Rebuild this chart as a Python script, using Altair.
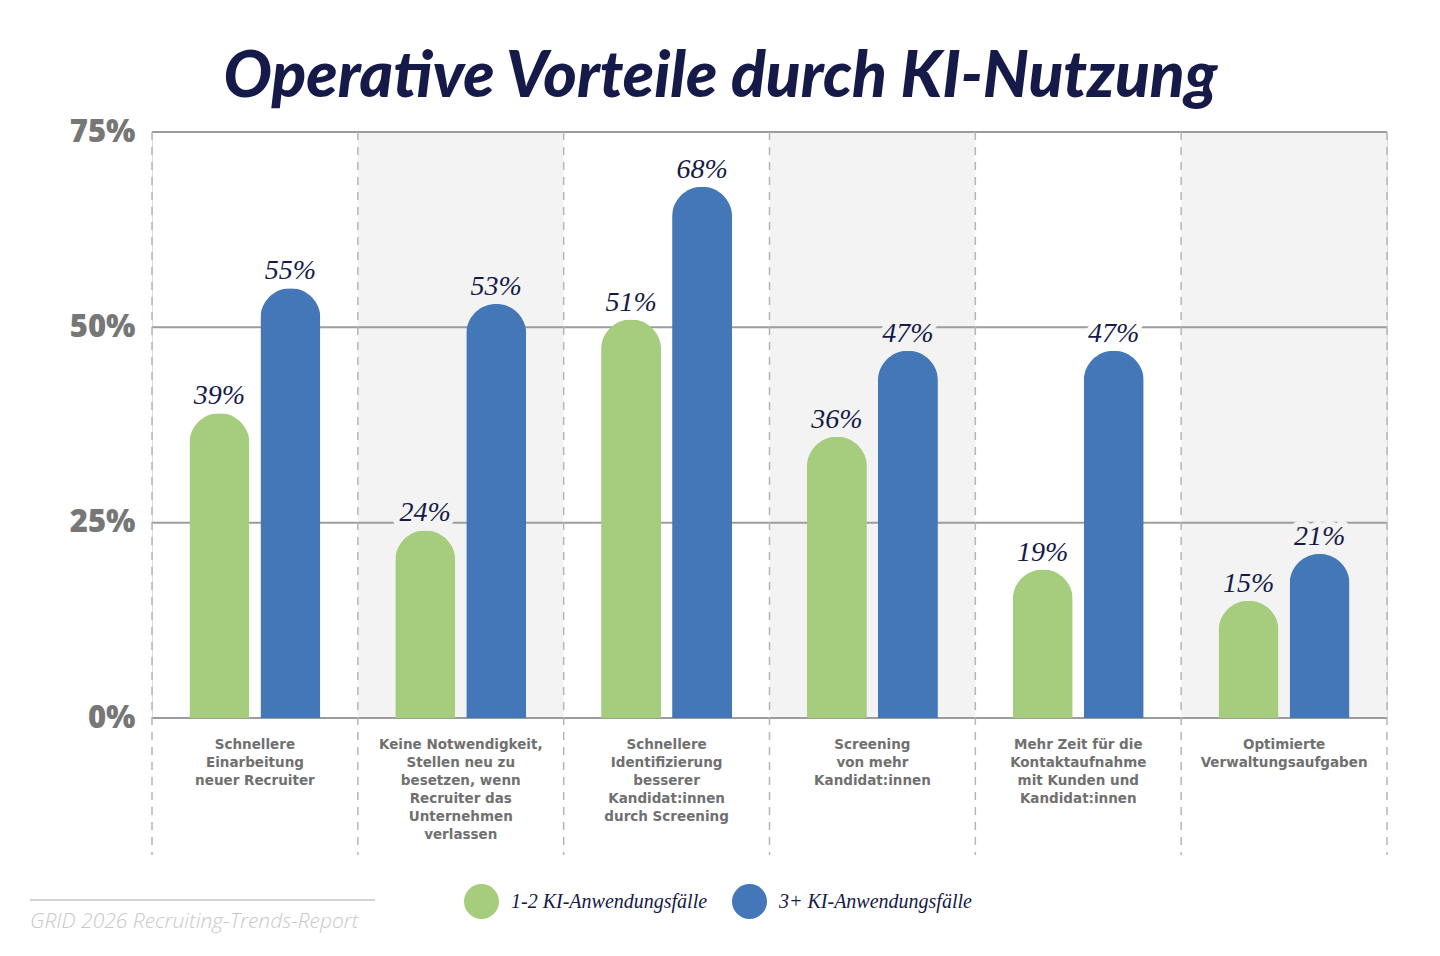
import altair as alt
import pandas as pd

categories = [
    "Schnellere|Einarbeitung|neuer Recruiter",
    "Keine Notwendigkeit,|Stellen neu zu|besetzen, wenn|Recruiter das|Unternehmen|verlassen",
    "Schnellere|Identifizierung|besserer|Kandidat:innen|durch Screening",
    "Screening|von mehr|Kandidat:innen",
    "Mehr Zeit für die|Kontaktaufnahme|mit Kunden und|Kandidat:innen",
    "Optimierte|Verwaltungsaufgaben",
]
series_names = ["1-2 KI-Anwendungsfälle", "3+ KI-Anwendungsfälle"]
values_12 = [39, 24, 51, 36, 19, 15]
values_3p = [55, 53, 68, 47, 47, 21]
y_ticks = [0, 25, 50, 75]
shaded = [categories[1], categories[3], categories[5]]

NAVY = "#151a48"
GREEN = "#a6cd7d"
BLUE = "#4477b8"
SHADE = "#f3f3f3"
GRID = "#9c9c9c"

rows = []
for c, a, b in zip(categories, values_12, values_3p):
    rows.append({"cat": c, "series": series_names[0], "value": a, "label": f"{a}%",
                 "bg": "shade" if c in shaded else "white"})
    rows.append({"cat": c, "series": series_names[1], "value": b, "label": f"{b}%",
                 "bg": "shade" if c in shaded else "white"})
df = pd.DataFrame(rows)

W, H = 1235, 586

xenc = alt.X("cat:N", sort=categories, scale=alt.Scale(paddingInner=0, paddingOuter=0),
             axis=alt.Axis(title=None, domain=False, ticks=False, labelAngle=0,
                           labelExpr="split(datum.label, '|')", labelFont="DejaVu Sans",
                           labelFontWeight="bold", labelFontSize=13.5, labelColor="#707070",
                           labelLineHeight=18, labelBaseline="top", labelPadding=19,
                           labelLimit=0, grid=False))
yscale = alt.Scale(domain=[0, 75], nice=False)
yaxis = alt.Axis(title=None, values=y_ticks, domain=False, ticks=False, grid=False,
                 labelExpr="datum.value + '%'", labelFont="Open Sans", labelFontWeight=800,
                 labelFontSize=31, labelColor="#777777", labelPadding=17)

bg = alt.Chart(pd.DataFrame({"cat": shaded})).mark_rect(color=SHADE).encode(
    x=xenc, y=alt.value(0), y2=alt.value(H))

grid = alt.Chart(pd.DataFrame({"v": y_ticks})).mark_rule(color=GRID, strokeWidth=2).encode(
    y=alt.Y("v:Q", scale=yscale, axis=yaxis))

sep_left = alt.Chart(pd.DataFrame({"cat": categories})).mark_rule(
    color="#b5b5b5", strokeWidth=1.5, strokeDash=[8, 7]).encode(
    x=alt.X("cat:N", sort=categories, bandPosition=0), y=alt.value(0), y2=alt.value(723))
sep_right = alt.Chart(pd.DataFrame({"cat": categories[-1:]})).mark_rule(
    color="#b5b5b5", strokeWidth=1.5, strokeDash=[8, 7]).encode(
    x=alt.X("cat:N", sort=categories, bandPosition=1), y=alt.value(0), y2=alt.value(723))

off = alt.XOffset("series:N", sort=series_names,
                  scale=alt.Scale(paddingInner=0.155, paddingOuter=0.527))

bars = alt.Chart(df).mark_bar(cornerRadiusTopLeft=30, cornerRadiusTopRight=30).encode(
    x=alt.X("cat:N", sort=categories),
    xOffset=off,
    y=alt.Y("value:Q", scale=yscale),
    color=alt.Color("series:N", sort=series_names,
                    scale=alt.Scale(domain=series_names, range=[GREEN, BLUE]),
                    legend=alt.Legend(title=None, orient="none", direction="horizontal",
                                      legendX=312, legendY=752, symbolType="circle",
                                      symbolSize=1225, symbolStrokeWidth=0,
                                      labelFont="Liberation Serif", labelFontStyle="italic",
                                      labelFontSize=20, labelColor=NAVY, labelLimit=0,
                                      columnPadding=24, labelOffset=12)),
)

LBL = dict(font="Liberation Serif", fontStyle="italic", fontSize=28, baseline="bottom", dy=-3)

def halo(kind, col):
    return alt.Chart(df).transform_filter(alt.datum.bg == kind).mark_text(
        color=col, stroke=col, strokeWidth=12, strokeJoin="round", **LBL).encode(
        x=alt.X("cat:N", sort=categories), xOffset=off,
        y=alt.Y("value:Q", scale=yscale), text="label:N")

labels = alt.Chart(df).mark_text(color=NAVY, **LBL).encode(
    x=alt.X("cat:N", sort=categories), xOffset=off,
    y=alt.Y("value:Q", scale=yscale), text="label:N")

footer = alt.Chart(pd.DataFrame({"t": ["GRID 2026 Recruiting-Trends-Report"]})).mark_text(
    font="Open Sans", fontStyle="italic", fontWeight=300, fontSize=21, color="#c8c8c8",
    align="left", baseline="middle").encode(
    x=alt.value(-122), y=alt.value(790), text="t:N")
footer_line = alt.Chart(pd.DataFrame({"t": [1]})).mark_rule(color="#d4d4d4", strokeWidth=2).encode(
    x=alt.value(-122), x2=alt.value(223), y=alt.value(768))

chart = alt.layer(
    bg.encode(x=xenc), grid, sep_left, sep_right, bars,
    halo("white", "white"), halo("shade", SHADE), labels, footer, footer_line
).properties(
    width=W, height=H,
    title=alt.TitleParams("Operative Vorteile durch KI-Nutzung", font="Lato", fontSize=64,
                          fontStyle="italic", fontWeight=900, color=NAVY, anchor="middle",
                          dx=-49, offset=6),
    autosize=alt.AutoSizeParams(type="none"),
    padding={"left": 152, "top": 132, "right": 53, "bottom": 238},
).configure_view(stroke=None).configure(background="white")

chart.save("out.html", embed_options={"renderer": "svg", "actions": False})
